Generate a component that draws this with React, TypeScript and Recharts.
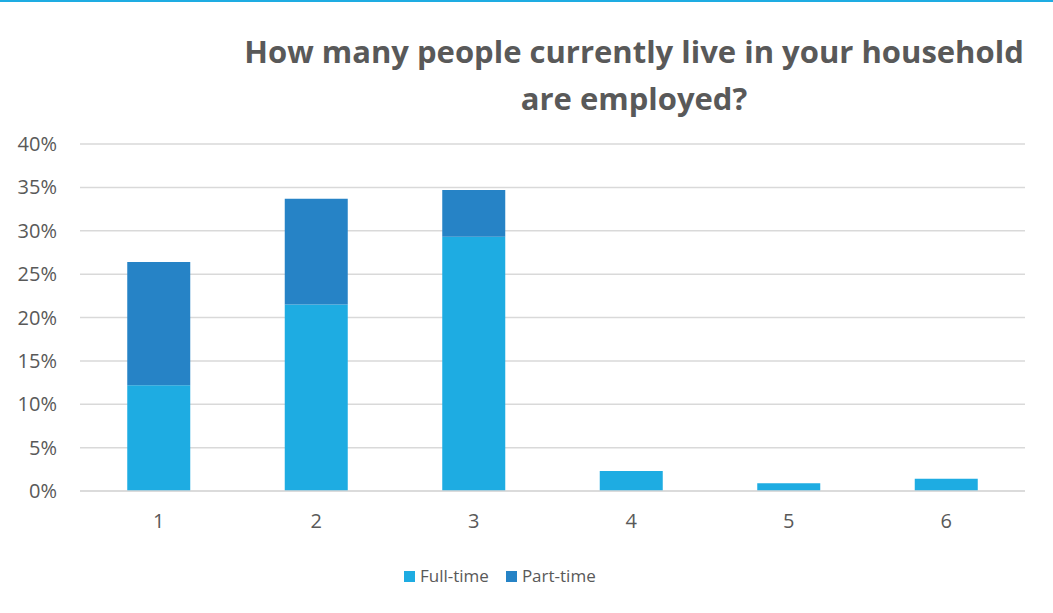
import React from 'react';
import { BarChart, Bar, XAxis, YAxis, CartesianGrid } from 'recharts';

const categories = ['1', '2', '3', '4', '5', '6'];
const fullTime = [12.2, 21.5, 29.3, 2.3, 0.9, 1.4];
const partTime = [14.2, 12.2, 5.4, 0, 0, 0];
const yTicks = [0, 5, 10, 15, 20, 25, 30, 35, 40];
const seriesNames = ['Full-time', 'Part-time'];
const seriesColors = ['#1EACE2', '#2683C6'];

const data = categories.map((c, i) => ({ name: c, full: fullTime[i], part: partTime[i] }));

const FONT = '"Open Sans", "Noto Sans", sans-serif';
const TEXT = '#595959';

export default function App() {
  return (
    <div style={{ position: 'absolute', left: 0, top: 0, width: 1053, height: 613, background: '#fff', overflow: 'hidden' }}>
      <div style={{ position: 'absolute', left: 0, top: 0, width: 1053, height: 2, background: '#1EACE2' }} />
      <div
        style={{
          position: 'absolute',
          left: 184,
          width: 900,
          top: 28,
          textAlign: 'center',
          fontFamily: FONT,
          fontWeight: 700,
          fontSize: 31,
          lineHeight: '47px',
          color: TEXT,
        }}
      >
        How many people currently live in your household
        <br />
        are employed?
      </div>
      <BarChart
        width={1053}
        height={613}
        data={data}
        margin={{ top: 144, right: 28, bottom: 92, left: 0 }}
        barCategoryGap="30%"
      >
        <CartesianGrid vertical={false} stroke="#D9D9D9" strokeWidth={1.5} />
        <XAxis
          dataKey="name"
          height={30}
          tickLine={false}
          axisLine={{ stroke: '#D9D9D9', strokeWidth: 1.5 }}
          tickSize={0}
          tickMargin={23}
          tick={{ fill: TEXT, fontSize: 20, fontFamily: FONT }}
        />
        <YAxis
          width={80}
          domain={[0, 40]}
          ticks={yTicks}
          interval={0}
          tickFormatter={(v: number) => `${v}%`}
          tickLine={false}
          axisLine={false}
          tickSize={0}
          tickMargin={23}
          tick={{ fill: TEXT, fontSize: 20, fontFamily: FONT }}
        />
        <Bar dataKey="full" name={seriesNames[0]} stackId="a" fill={seriesColors[0]} isAnimationActive={false} />
        <Bar dataKey="part" name={seriesNames[1]} stackId="a" fill={seriesColors[1]} isAnimationActive={false} />
      </BarChart>
      <div
        style={{
          position: 'absolute',
          top: 564,
          left: 404,
          display: 'flex',
          alignItems: 'center',
          fontFamily: FONT,
          fontSize: 17,
          lineHeight: '24px',
          color: TEXT,
        }}
      >
        {seriesNames.map((n, i) => (
          <div key={n} style={{ display: 'flex', alignItems: 'center', marginRight: i === 0 ? 17 : 0 }}>
            <span style={{ display: 'inline-block', width: 11, height: 11, background: seriesColors[i], marginRight: 5 }} />
            <span>{n}</span>
          </div>
        ))}
      </div>
    </div>
  );
}
